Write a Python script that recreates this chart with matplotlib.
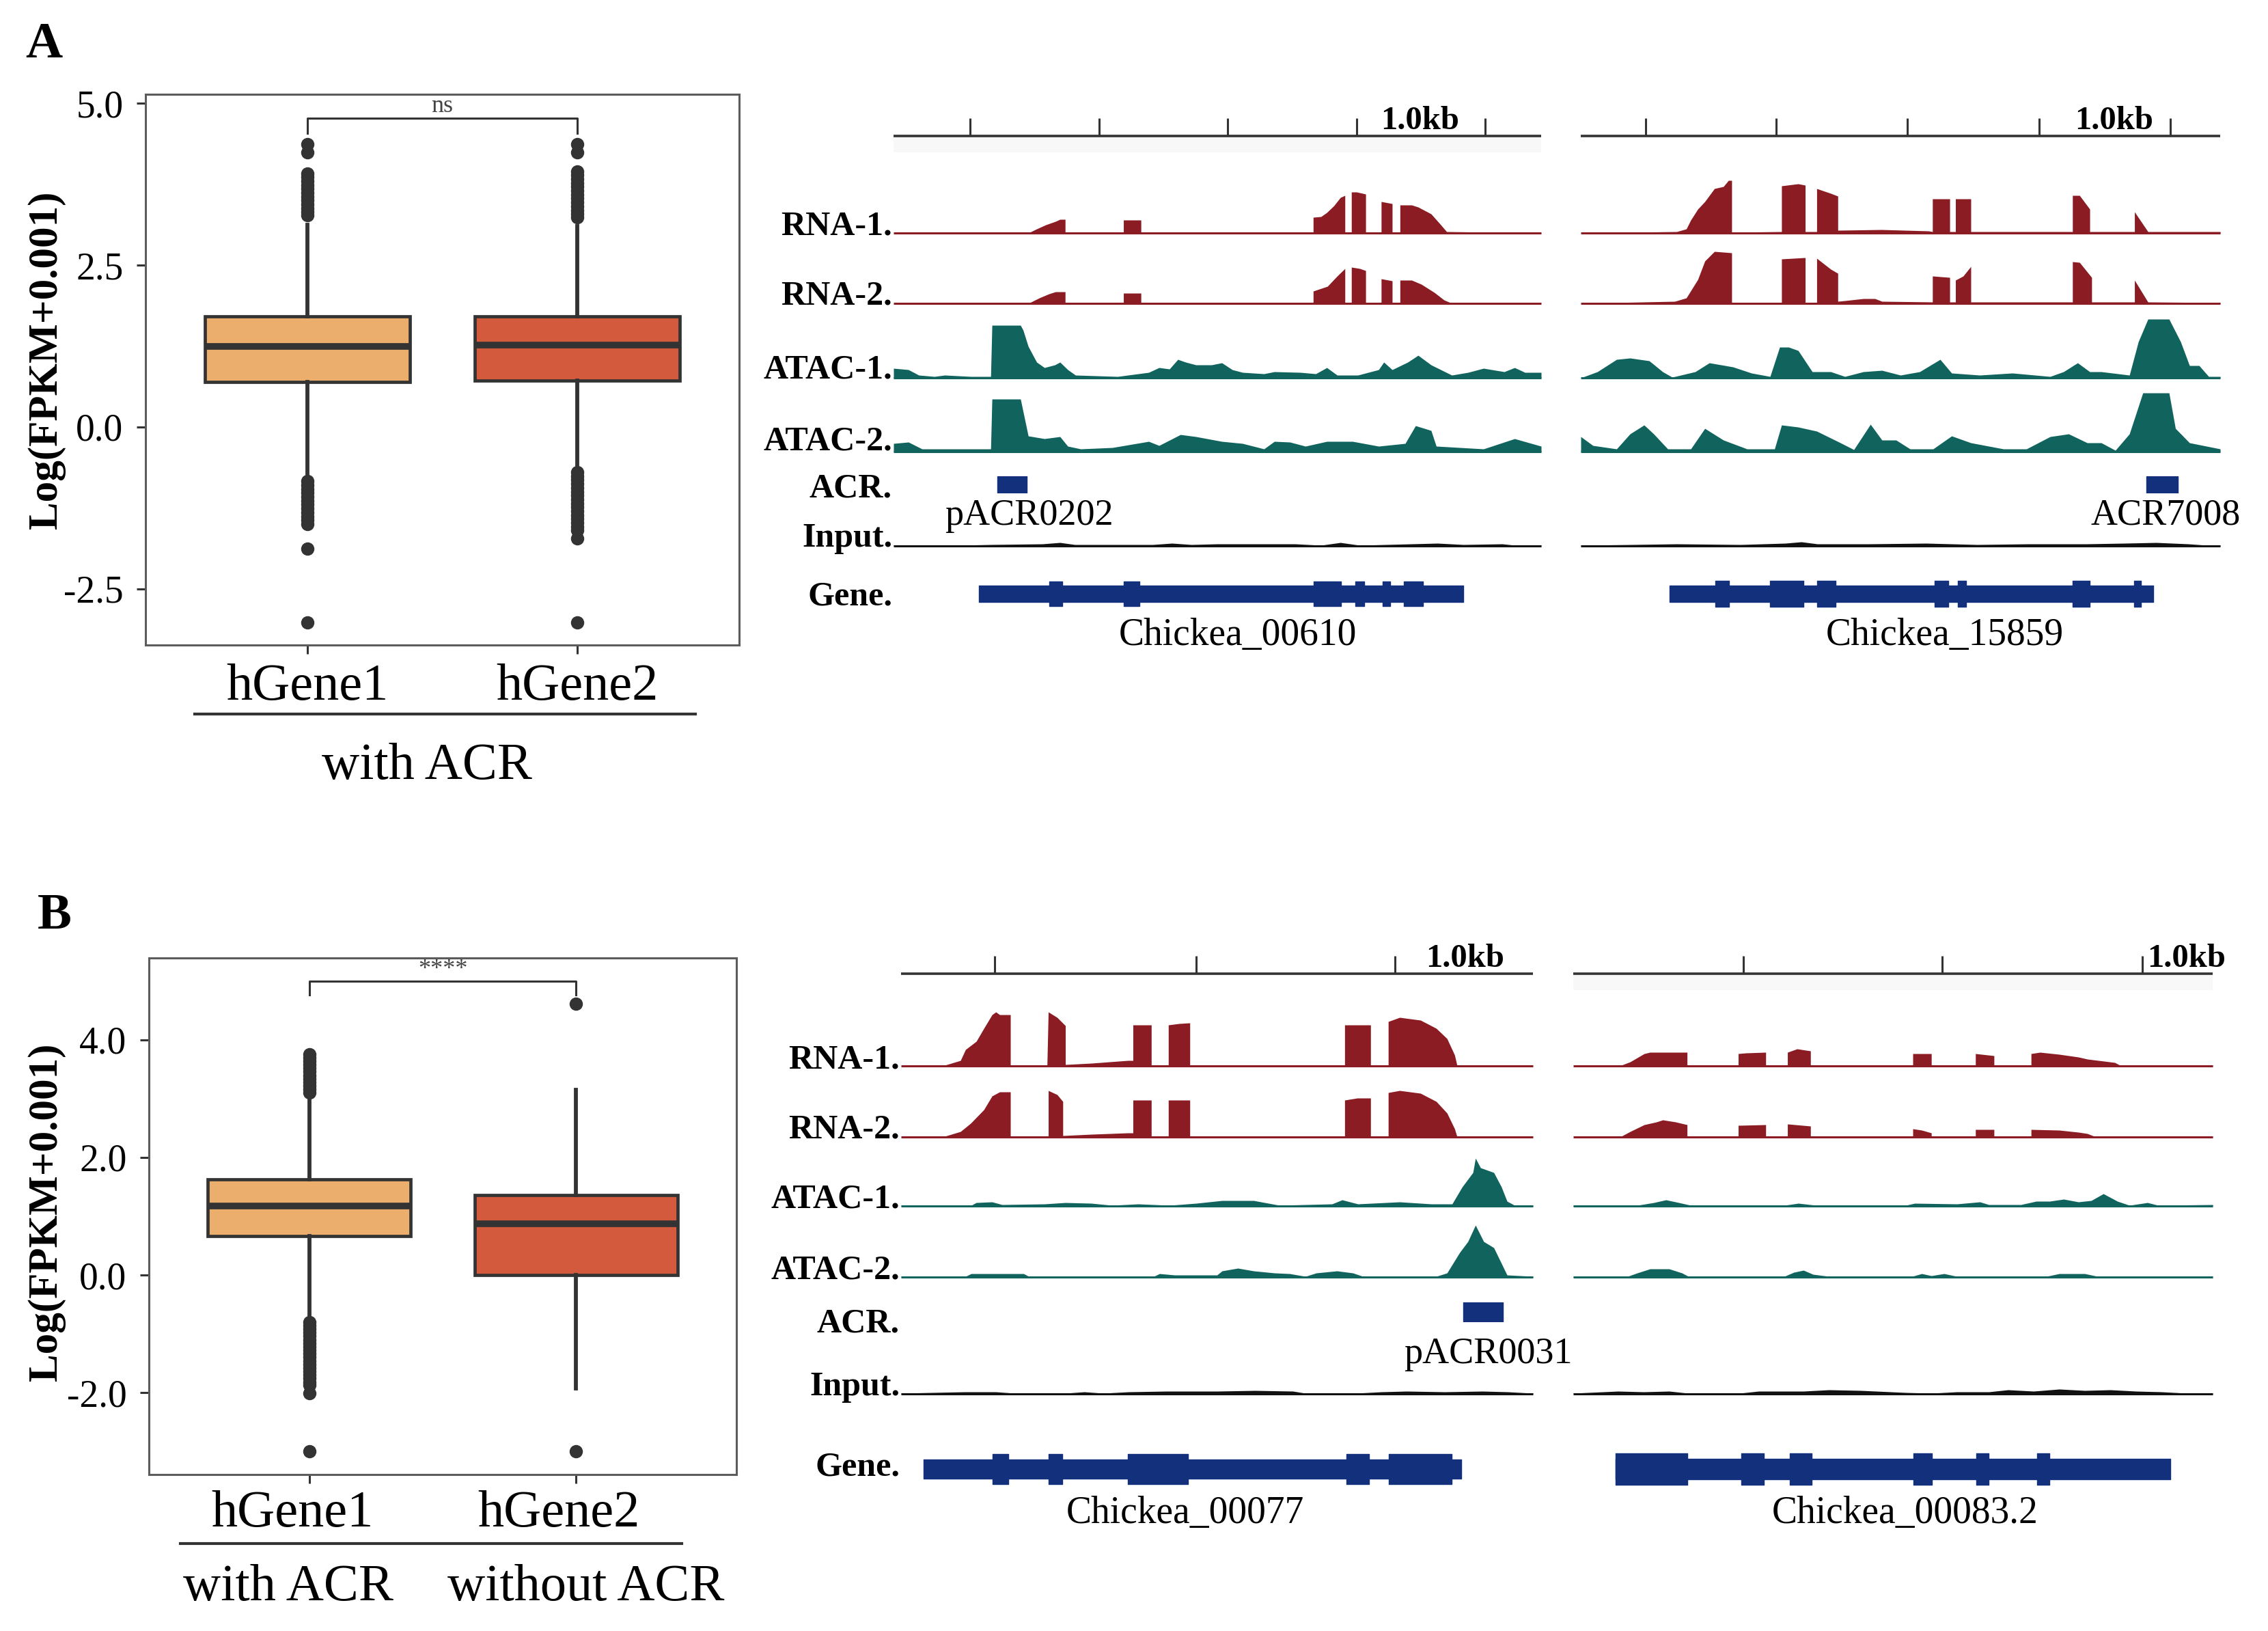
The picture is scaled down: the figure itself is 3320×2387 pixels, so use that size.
import matplotlib
matplotlib.use("Agg")
import matplotlib.pyplot as plt
import matplotlib.transforms as mtrans
from matplotlib.lines import Line2D

plt.rcParams["font.family"] = ["Liberation Serif", "DejaVu Serif"]

# ---------------- boxplot data (log FPKM) ----------------
groups = ["hGene1", "hGene2"]
box_colors = ["#ebae6c", "#d45a3e"]

a_q1 = [0.70, 0.72]
a_med = [1.24, 1.26]
a_q3 = [1.71, 1.71]
a_whislo = [-0.74, -0.62]
a_whishi = [3.12, 3.10]
a_fliers_g1 = [4.37, 4.24, 3.92, 3.86, 3.80, 3.74, 3.68, 3.62, 3.56, 3.50, 3.44, 3.38, 3.32, 3.27,
               -0.84, -0.90, -0.96, -1.02, -1.08, -1.14, -1.20, -1.26, -1.32, -1.38, -1.44, -1.50,
               -1.88, -3.02]
a_fliers_g2 = [4.37, 4.24, 3.95, 3.89, 3.83, 3.77, 3.71, 3.65, 3.59, 3.53, 3.47, 3.41, 3.35, 3.29, 3.24,
               -0.70, -0.76, -0.82, -0.88, -0.94, -1.00, -1.06, -1.12, -1.18, -1.24, -1.30, -1.36,
               -1.42, -1.48, -1.54, -1.60, -1.72, -3.02]
a_sig = "ns"
a_subgroups = ["with ACR"]

b_q1 = [0.66, 0.00]
b_med = [1.17, 0.87]
b_q3 = [1.63, 1.36]
b_whislo = [-0.72, -1.93]
b_whishi = [3.02, 3.15]
b_fliers_g1 = [3.76, 3.70, 3.64, 3.58, 3.52, 3.46, 3.40, 3.34, 3.28, 3.22, 3.16, 3.10,
               -0.80, -0.86, -0.92, -0.98, -1.04, -1.10, -1.16, -1.22, -1.28, -1.34, -1.40, -1.46,
               -1.52, -1.58, -1.64, -1.70, -1.76, -1.82, -1.87, -2.01, -3.00]
b_fliers_g2 = [4.62, -3.00]
b_sig = "****"
b_subgroups = ["with ACR", "without ACR"]

# ---------------- genome browser tracks ----------------
# window coordinates 0..1000 per panel, coverage
track_names = ["RNA-1.", "RNA-2.", "ATAC-1.", "ATAC-2.", "ACR.", "Input.", "Gene."]

a1_rna1 = [(0, 0), (208, 0), (221, 6), (235, 12), (250, 17), (257, 20), (265, 20), (265, 0), (355, 0), (355, 19),
           (382, 19), (382, 0), (648, 0), (648, 23), (660, 24), (669, 30), (680, 40), (690, 52), (697, 55), (697, 0),
           (707, 0), (707, 60), (715, 60), (729, 57), (729, 0), (753, 0), (753, 46), (770, 43), (770, 0), (782, 0),
           (782, 41), (800, 41), (810, 38), (830, 28), (845, 12), (854, 2), (1000, 0)]
a1_rna2 = [(0, 0), (208, 0), (225, 8), (240, 14), (250, 17), (265, 17), (265, 0), (355, 0), (355, 15), (382, 15),
           (382, 0), (648, 0), (648, 18), (670, 25), (685, 40), (697, 51), (697, 0), (707, 0), (707, 53), (720, 51),
           (729, 48), (729, 0), (753, 0), (753, 36), (770, 33), (770, 0), (782, 0), (782, 34), (800, 34), (815, 28),
           (835, 16), (850, 5), (860, 1), (1000, 0)]
a1_atac1 = [(0, 14), (23, 12), (39, 4), (63, 2), (79, 4), (120, 2), (150, 2), (152, 77), (160, 77), (196, 77),
            (200, 70), (208, 46), (221, 23), (233, 15), (249, 19), (257, 23), (269, 12), (281, 4), (346, 2), (362, 4),
            (394, 8), (410, 15), (426, 13), (439, 27), (451, 23), (467, 19), (491, 19), (507, 22), (523, 12), (539, 8),
            (572, 6), (588, 9), (628, 8), (652, 6), (669, 15), (685, 4), (717, 4), (749, 12), (757, 23), (770, 12),
            (794, 23), (810, 33), (830, 19), (862, 4), (887, 8), (911, 14), (943, 9), (959, 15), (975, 8), (1000, 8)]
a1_atac2 = [(0, 12), (23, 14), (44, 4), (136, 4), (150, 4), (152, 77), (196, 77), (208, 23), (233, 19), (257, 22),
            (269, 8), (289, 4), (338, 6), (394, 15), (410, 9), (443, 25), (467, 22), (507, 15), (539, 12), (572, 4),
            (588, 15), (612, 14), (636, 8), (669, 15), (709, 15), (749, 8), (790, 12), (806, 38), (830, 31), (838, 8),
            (911, 4), (959, 19), (1000, 8)]
a1_input = [(0, 1), (100, 1), (150, 2), (230, 3), (257, 5), (280, 2), (400, 2), (430, 4), (460, 2), (500, 3),
            (560, 3), (620, 3), (660, 1), (690, 5), (720, 1), (800, 3), (840, 4), (880, 2), (940, 3), (960, 1),
            (1000, 1)]
a1_ticks = [118, 317, 516, 715, 914]
a1_gene = (132, 880)
a1_exons = [(241, 261), (355, 380), (649, 691), (713, 727), (755, 767), (788, 818)]
a1_acr = (160, 206)
a1_acr_name = "pACR0202"
a1_gene_name = "Chickea_00610"

a2_rna1 = [(0, 0), (150, 2), (165, 6), (172, 19), (183, 35), (194, 46), (209, 65), (223, 68), (231, 77), (236, 77),
           (236, 1), (314, 2), (314, 69), (340, 72), (351, 70), (351, 2), (369, 2), (369, 65), (391, 58), (402, 54),
           (402, 4), (470, 5), (544, 3), (550, 2), (550, 50), (577, 50), (577, 2), (586, 2), (586, 50), (610, 50),
           (610, 2), (769, 2), (769, 55), (780, 55), (796, 35), (796, 2), (866, 2), (866, 31), (887, 2), (1000, 2)]
a2_rna2 = [(0, 0), (147, 3), (165, 8), (183, 35), (194, 62), (209, 76), (236, 74), (236, 1), (314, 1), (314, 65),
           (351, 67), (351, 1), (369, 1), (369, 66), (391, 50), (402, 44), (402, 3), (413, 4), (442, 7), (460, 7),
           (471, 3), (550, 2), (550, 40), (577, 38), (577, 2), (586, 2), (586, 34), (598, 40), (610, 54), (610, 2),
           (769, 2), (769, 61), (780, 60), (799, 38), (799, 2), (866, 2), (866, 34), (887, 2), (1000, 1)]
a2_atac1 = [(0, 0), (26, 9), (56, 27), (77, 29), (107, 25), (128, 9), (143, 1), (179, 9), (201, 22), (238, 16),
            (267, 7), (296, 2), (311, 45), (325, 45), (340, 40), (362, 9), (391, 9), (413, 2), (442, 9), (471, 11),
            (500, 4), (530, 9), (562, 27), (580, 7), (624, 4), (675, 7), (734, 2), (755, 9), (777, 22), (796, 9),
            (814, 9), (858, 4), (872, 53), (887, 86), (920, 86), (938, 53), (952, 18), (967, 18), (982, 2), (1000, 2)]
a2_atac2 = [(0, 22), (19, 9), (56, 4), (77, 26), (99, 39), (114, 26), (136, 4), (172, 4), (194, 34), (223, 17),
            (260, 4), (303, 4), (314, 39), (340, 36), (369, 30), (406, 13), (427, 3), (453, 40), (471, 17), (493, 17),
            (515, 4), (551, 4), (580, 23), (610, 13), (661, 4), (697, 4), (734, 22), (763, 26), (792, 13), (814, 13),
            (836, 2), (858, 26), (879, 86), (920, 86), (930, 34), (952, 13), (1000, 4)]
a2_input = [(0, 1), (80, 2), (150, 3), (250, 2), (320, 4), (345, 6), (370, 3), (450, 3), (540, 4), (620, 2),
            (700, 3), (790, 3), (850, 4), (900, 5), (950, 3), (980, 1), (1000, 1)]
a2_ticks = [101, 306, 511, 717, 922]
a2_gene = (139, 895)
a2_exons = [(211, 232), (296, 348), (370, 398), (553, 575), (590, 603), (769, 796), (865, 876)]
a2_acr = (885, 934)
a2_acr_name = "ACR7008"
a2_gene_name = "Chickea_15859"

b1_rna1 = [(0, 0), (69, 1), (94, 8), (102, 24), (119, 36), (131, 55), (144, 75), (150, 79), (156, 75), (173, 75),
           (173, 0), (231, 0), (233, 79), (247, 71), (260, 59), (260, 2), (301, 4), (359, 8), (367, 8), (367, 60),
           (396, 60), (396, 0), (423, 0), (423, 60), (440, 62), (457, 63), (457, 0), (702, 0), (702, 60), (743, 60),
           (743, 0), (771, 0), (771, 65), (789, 71), (822, 67), (847, 55), (864, 40), (876, 16), (880, 0), (1000, 0)]
b1_rna2 = [(0, 0), (69, 1), (94, 8), (110, 20), (131, 40), (144, 60), (156, 66), (173, 66), (173, 0), (233, 0),
           (233, 68), (247, 62), (256, 52), (256, 2), (301, 4), (359, 6), (367, 6), (367, 54), (396, 54), (396, 0),
           (423, 0), (423, 54), (457, 54), (457, 0), (702, 0), (702, 54), (722, 57), (743, 57), (743, 0), (771, 0),
           (771, 65), (789, 68), (822, 64), (847, 52), (864, 35), (876, 12), (880, 0), (1000, 0)]
b1_atac1 = [(0, 1), (111, 1), (119, 5), (144, 6), (160, 2), (227, 3), (260, 5), (301, 4), (334, 1), (375, 3),
            (425, 1), (467, 4), (508, 8), (558, 8), (599, 1), (682, 3), (698, 9), (723, 3), (789, 6), (839, 3),
            (872, 3), (888, 28), (905, 49), (909, 70), (917, 56), (938, 49), (950, 28), (959, 7), (971, 1), (1000, 1)]
b1_atac2 = [(0, 1), (102, 1), (111, 5), (194, 5), (202, 1), (400, 1), (409, 5), (433, 3), (500, 3), (508, 9),
            (533, 13), (558, 9), (591, 6), (615, 5), (640, 1), (657, 6), (690, 9), (715, 6), (731, 1), (847, 1),
            (864, 6), (884, 36), (897, 52), (909, 76), (922, 52), (938, 43), (959, 3), (1000, 1)]
b1_input = [(0, 1), (100, 3), (150, 3), (180, 1), (260, 1), (290, 3), (320, 1), (360, 3), (420, 4), (500, 4),
            (560, 5), (620, 4), (640, 1), (720, 1), (760, 3), (800, 4), (860, 3), (920, 4), (960, 3), (1000, 1)]
b1_ticks = [148, 467, 782]
b1_gene = (36, 886)
b1_exons = [(145, 170), (233, 255), (359, 454), (705, 740), (772, 871)]
b1_acr = (890, 952)
b1_acr_name = "pACR0031"
b1_gene_name = "Chickea_00077"

b2_rna1 = [(0, 0), (75, 1), (89, 6), (111, 18), (120, 20), (178, 20), (178, 1), (258, 1), (258, 18), (270, 19),
           (301, 20), (301, 1), (335, 1), (335, 20), (350, 25), (371, 22), (371, 1), (531, 1), (531, 18), (560, 18),
           (560, 1), (629, 1), (629, 18), (658, 15), (658, 1), (716, 1), (716, 18), (730, 20), (760, 17), (790, 13),
           (804, 10), (830, 7), (847, 5), (855, 1), (1000, 1)]
b2_rna2 = [(0, 0), (75, 1), (89, 8), (111, 18), (130, 22), (140, 25), (160, 22), (178, 18), (178, 1), (258, 1),
           (258, 17), (301, 18), (301, 1), (335, 1), (335, 19), (371, 16), (371, 1), (531, 1), (531, 12), (545, 10),
           (560, 6), (560, 1), (629, 1), (629, 11), (658, 11), (658, 1), (716, 1), (716, 11), (760, 10), (790, 7),
           (804, 5), (815, 1), (1000, 1)]
b2_atac1 = [(0, 1), (100, 1), (126, 5), (145, 9), (165, 5), (184, 1), (330, 1), (352, 4), (380, 1), (520, 1),
            (534, 4), (600, 3), (636, 6), (650, 2), (700, 2), (724, 7), (745, 7), (767, 10), (790, 6), (810, 8),
            (829, 18), (851, 7), (870, 1), (898, 5), (915, 1), (1000, 2)]
b2_atac2 = [(0, 1), (85, 1), (100, 6), (120, 12), (150, 12), (170, 6), (180, 1), (330, 1), (345, 7), (360, 10),
            (375, 4), (400, 1), (530, 1), (545, 5), (560, 2), (580, 5), (600, 1), (740, 1), (760, 5), (800, 5),
            (820, 1), (1000, 1)]
b2_input = [(0, 1), (70, 4), (110, 3), (150, 4), (180, 1), (260, 1), (290, 4), (360, 4), (400, 6), (450, 5),
            (520, 2), (560, 1), (600, 3), (650, 3), (680, 6), (720, 4), (760, 7), (800, 5), (840, 6), (880, 4),
            (920, 3), (960, 1), (1000, 1)]
b2_ticks = [266, 577, 890]
b2_gene = (66, 934)
b2_exons = [(66, 178), (263, 298), (339, 373), (532, 561), (630, 650), (725, 745)]
b2_gene_name = "Chickea_00083.2"

# ---------------- style ----------------
W, H = 3320, 2387
dark = "#333333"
rna_col = "#8c1c23"
atac_col = "#11645e"
navy = "#13307c"

fig = plt.figure(figsize=(W / 100, H / 100), dpi=100)
fig.patch.set_facecolor("white")


def px_ax(x0, ytop, x1, ybot):
    return fig.add_axes([x0 / W, 1 - ybot / H, (x1 - x0) / W, (ybot - ytop) / H])


def fx(x):
    return x / W


def fy(y):
    return 1 - y / H


def draw_box(ax, q1, med, q3, lo, hi, fliers, ylim, yticks, ylabels, sig, sig_y, lab_pad):
    stats = []
    for i, name in enumerate(groups):
        stats.append(dict(label=name, q1=q1[i], med=med[i], q3=q3[i],
                          whislo=lo[i], whishi=hi[i], fliers=fliers[i]))
    bp = ax.bxp(stats, positions=[1, 2], widths=0.76, patch_artist=True, showcaps=False,
                boxprops=dict(edgecolor=dark, linewidth=3.4),
                medianprops=dict(color=dark, linewidth=7, solid_capstyle="butt"),
                whiskerprops=dict(color=dark, linewidth=4.2),
                flierprops=dict(marker="o", markersize=13, markerfacecolor=dark,
                                markeredgecolor=dark))
    for patch, c in zip(bp["boxes"], box_colors):
        patch.set_facecolor(c)
    ax.set_xlim(0.4, 2.6)
    ax.set_ylim(*ylim)
    ax.set_yticks(yticks)
    ax.set_yticklabels(ylabels, fontsize=40)
    ax.set_xticks([1, 2])
    ax.set_xticklabels(groups, fontsize=55)
    ax.tick_params(axis="y", length=9.4, width=2.2, color=dark, pad=14)
    ax.tick_params(axis="x", length=9.4, width=2.2, color=dark, pad=lab_pad)
    for s in ax.spines.values():
        s.set_color("#5c5c5c")
        s.set_linewidth(2.2)
    # significance bracket
    top, drop = sig_y
    ax.plot([1, 1, 2, 2], [top - drop, top, top, top - drop], color=dark, lw=2.2)
    ax.text(1.5, top + 0.19, sig, ha="center", va="center", fontsize=26, color="#444444")


# ---- Panel A boxplot ----
axA = px_ax(213, 138, 1082, 944)
draw_box(axA, a_q1, a_med, a_q3, a_whislo, a_whishi, [a_fliers_g1, a_fliers_g2],
         (-3.37, 5.14), [-2.5, 0, 2.5, 5.0], ["-2.5", "0.0", "2.5", "5.0"], a_sig, (4.77, 0.23), 10)
axA.set_ylabel("Log(FPKM+0.001)", fontsize=44, fontweight="bold", va="center")
axA.yaxis.set_label_coords(fx(68), fy(527), transform=fig.transFigure)
fig.add_artist(Line2D([fx(285), fx(1018)], [fy(1045)] * 2, color=dark, lw=3))
fig.text(fx(625), fy(1140), a_subgroups[0], ha="center", va="baseline", fontsize=55)
fig.text(fx(37), fy(84), "A", ha="left", va="baseline", fontsize=54, fontweight="bold")

# ---- Panel B boxplot ----
axB = px_ax(218, 1402, 1078, 2158)
draw_box(axB, b_q1, b_med, b_q3, b_whislo, b_whishi, [b_fliers_g1, b_fliers_g2],
         (-3.395, 5.395), [-2, 0, 2, 4], ["-2.0", "0.0", "2.0", "4.0"], b_sig, (5.0, 0.23), 7)
shift = mtrans.ScaledTranslation(-0.25, 0, fig.dpi_scale_trans)
for lab in axB.get_xticklabels():
    lab.set_transform(lab.get_transform() + shift)
axB.set_ylabel("Log(FPKM+0.001)", fontsize=44, fontweight="bold", va="center")
axB.yaxis.set_label_coords(fx(68), fy(1774), transform=fig.transFigure)
fig.add_artist(Line2D([fx(264), fx(998)], [fy(2259)] * 2, color=dark, lw=3))
fig.text(fx(422), fy(2342), b_subgroups[0], ha="center", va="baseline", fontsize=55)
fig.text(fx(858), fy(2342), b_subgroups[1], ha="center", va="baseline", fontsize=55)
fig.text(fx(55), fy(1359), "B", ha="left", va="baseline", fontsize=54, fontweight="bold")


# ---------------- browser drawing helpers ----------------
def draw_cov(x0, x1, base, pts, color, height=100):
    ax = px_ax(x0, base - height, x1, base)
    pos = [p for p, _ in pts]
    val = [v for _, v in pts]
    ax.fill_between(pos, 0, val, color=color, linewidth=0)
    ax.plot([0, 1000], [0, 0], color=color, lw=2.2, clip_on=False, solid_capstyle="butt")
    ax.set_xlim(0, 1000)
    ax.set_ylim(0, height)
    ax.axis("off")


def draw_ruler(x0, x1, y, ticks, kb_pos, kb_ha, band):
    ax = px_ax(x0, y - 45, x1, y + 30)
    ax.set_xlim(0, 1000)
    ax.set_ylim(-30, 45)
    if band:
        ax.axhspan(-24, -1, color="#f8f8f8", lw=0)
    ax.plot([0, 1000], [0, 0], color=dark, lw=2.6, solid_capstyle="butt")
    ax.vlines(ticks, 0, 26, color=dark, lw=2.2)
    ax.text(kb_pos, 10, "1.0kb", ha=kb_ha, va="baseline", fontsize=35, fontweight="bold",
            clip_on=False)
    ax.axis("off")


def draw_gene(x0, x1, yc, span, exons, name, name_pos, name_y, half):
    ax = px_ax(x0, yc - 30, x1, yc + 30)
    ax.set_xlim(0, 1000)
    ax.set_ylim(-30, 30)
    ax.broken_barh([(span[0], span[1] - span[0])], (-half[0], 2 * half[0]), color=navy)
    ax.broken_barh([(s, e - s) for s, e in exons], (-half[1], 2 * half[1]), color=navy)
    tr = mtrans.blended_transform_factory(ax.transData, fig.transFigure)
    ax.text(name_pos, fy(name_y), name, transform=tr, ha="center", va="baseline", fontsize=40)
    ax.axis("off")


def draw_acr(x0, x1, ybox, acr, name, name_pos, name_y):
    ax = px_ax(x0, ybox[0], x1, ybox[1])
    ax.set_xlim(0, 1000)
    ax.set_ylim(0, 1)
    ax.broken_barh([(acr[0], acr[1] - acr[0])], (0, 1), color=navy)
    tr = mtrans.blended_transform_factory(ax.transData, fig.transFigure)
    ax.text(name_pos, fy(name_y), name, transform=tr, ha="center", va="baseline", fontsize=39,
            clip_on=False)
    ax.axis("off")


def draw_panel(x0, x1, lay, rna1, rna2, atac1, atac2, inp, ticks, kb, band,
               gene, exons, gene_name, gene_pos, half, acr=None, acr_name=None, acr_pos=None):
    draw_ruler(x0, x1, lay["ruler"], ticks, kb[0], kb[1], band)
    draw_cov(x0, x1, lay["rna1"], rna1, rna_col)
    draw_cov(x0, x1, lay["rna2"], rna2, rna_col)
    draw_cov(x0, x1, lay["atac1"], atac1, atac_col)
    draw_cov(x0, x1, lay["atac2"], atac2, atac_col)
    draw_cov(x0, x1, lay["inp"], inp, "#111111", height=30)
    if acr is not None:
        draw_acr(x0, x1, lay["acr"], acr, acr_name, acr_pos, lay["acr_text"])
    draw_gene(x0, x1, lay["gene"], gene, exons, gene_name, gene_pos, lay["gene_text"], half)


lay_a = dict(ruler=199, rna1=341, rna2=444, atac1=553, atac2=661, acr=(697, 721), acr_text=768,
             inp=799, gene=869, gene_text=944)
lay_b = dict(ruler=1425, rna1=1560, rna2=1664, atac1=1765, atac2=1869, acr=(1906, 1934), acr_text=1995,
             inp=2040, gene=2150, gene_text=2229)

draw_panel(1308, 2256, lay_a, a1_rna1, a1_rna2, a1_atac1, a1_atac2, a1_input, a1_ticks, (813, "center"), True,
           a1_gene, a1_exons, a1_gene_name, 532, (12, 18), a1_acr, a1_acr_name, 209)
draw_panel(2314, 3250, lay_a, a2_rna1, a2_rna2, a2_atac1, a2_atac2, a2_input, a2_ticks, (834, "center"), False,
           a2_gene, a2_exons, a2_gene_name, 569, (12, 19), a2_acr, a2_acr_name, 915)
draw_panel(1319, 2244, lay_b, b1_rna1, b1_rna2, b1_atac1, b1_atac2, b1_input, b1_ticks, (893, "center"), False,
           b1_gene, b1_exons, b1_gene_name, 450, (14, 22), b1_acr, b1_acr_name, 929)
draw_panel(2303, 3239, lay_b, b2_rna1, b2_rna2, b2_atac1, b2_atac2, b2_input, b2_ticks, (898, "left"), True,
           b2_gene, b2_exons, b2_gene_name, 519, (15, 23))

# row labels
label_y_a = [343, 445, 553, 659, 727, 800, 886]
label_y_b = [1563, 1666, 1768, 1871, 1950, 2042, 2159]
for name, ya, yb in zip(track_names, label_y_a, label_y_b):
    fig.text(fx(1306), fy(ya), name, ha="right", va="baseline", fontsize=36, fontweight="bold")
    fig.text(fx(1317), fy(yb), name, ha="right", va="baseline", fontsize=36, fontweight="bold")

fig.savefig("out.png", dpi=100, facecolor="white")
